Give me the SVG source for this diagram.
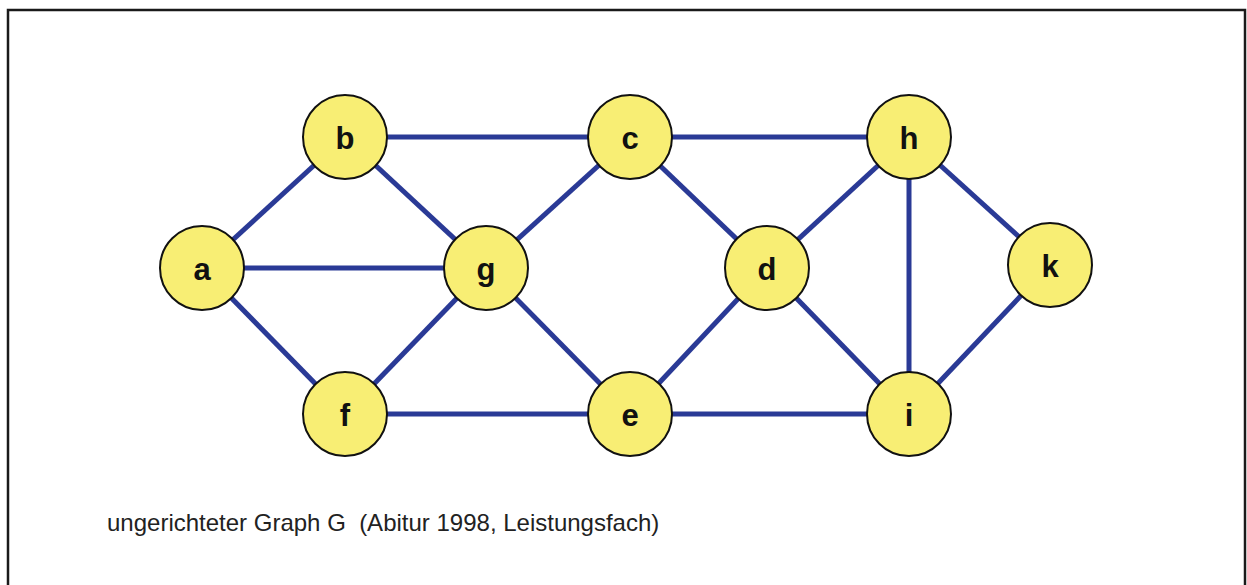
<svg xmlns="http://www.w3.org/2000/svg" width="1247" height="585" viewBox="0 0 1247 585">
<style>
.edge{stroke:#2a3a96;stroke-width:5;fill:none}
.node circle{fill:#f8ee74;stroke:#111;stroke-width:2}
.node text{font-family:"Liberation Sans",Arial,sans-serif;font-weight:bold;font-size:31px;fill:#111;text-anchor:middle;dominant-baseline:central}
.cap{font-family:"Liberation Sans",Arial,sans-serif;font-size:24px;fill:#222}
</style>
<rect x="0" y="0" width="1247" height="585" fill="#fff"/>
<rect x="8" y="10" width="1237" height="590" fill="none" stroke="#1a1a1a" stroke-width="2.5"/>
<g id="connectors">
<line class="edge" x1="202" y1="268" x2="345" y2="137"/>
<line class="edge" x1="202" y1="268" x2="486" y2="268"/>
<line class="edge" x1="202" y1="268" x2="345" y2="414"/>
<line class="edge" x1="345" y1="137" x2="630" y2="137"/>
<line class="edge" x1="345" y1="137" x2="486" y2="268"/>
<line class="edge" x1="345" y1="414" x2="486" y2="268"/>
<line class="edge" x1="345" y1="414" x2="630" y2="414"/>
<line class="edge" x1="486" y1="268" x2="630" y2="137"/>
<line class="edge" x1="486" y1="268" x2="630" y2="414"/>
<line class="edge" x1="630" y1="137" x2="909" y2="137"/>
<line class="edge" x1="630" y1="137" x2="767" y2="268"/>
<line class="edge" x1="630" y1="414" x2="767" y2="268"/>
<line class="edge" x1="630" y1="414" x2="909" y2="414"/>
<line class="edge" x1="767" y1="268" x2="909" y2="137"/>
<line class="edge" x1="767" y1="268" x2="909" y2="414"/>
<line class="edge" x1="909" y1="137" x2="909" y2="414"/>
<line class="edge" x1="909" y1="137" x2="1050" y2="265"/>
<line class="edge" x1="909" y1="414" x2="1050" y2="265"/>
</g>
<g id="a" class="node"><circle cx="202" cy="268" r="42"/><text x="202" y="269">a</text></g>
<g id="b" class="node"><circle cx="345" cy="137" r="42"/><text x="345" y="138">b</text></g>
<g id="f" class="node"><circle cx="345" cy="414" r="42"/><text x="345" y="415">f</text></g>
<g id="g" class="node"><circle cx="486" cy="268" r="42"/><text x="486" y="269">g</text></g>
<g id="c" class="node"><circle cx="630" cy="137" r="42"/><text x="630" y="138">c</text></g>
<g id="e" class="node"><circle cx="630" cy="414" r="42"/><text x="630" y="415">e</text></g>
<g id="d" class="node"><circle cx="767" cy="268" r="42"/><text x="767" y="269">d</text></g>
<g id="h" class="node"><circle cx="909" cy="137" r="42"/><text x="909" y="138">h</text></g>
<g id="i" class="node"><circle cx="909" cy="414" r="42"/><text x="909" y="415">i</text></g>
<g id="k" class="node"><circle cx="1050" cy="265" r="42"/><text x="1050" y="266">k</text></g>
<text class="cap" x="107" y="531" xml:space="preserve">ungerichteter Graph G  (Abitur 1998, Leistungsfach)</text>
</svg>
